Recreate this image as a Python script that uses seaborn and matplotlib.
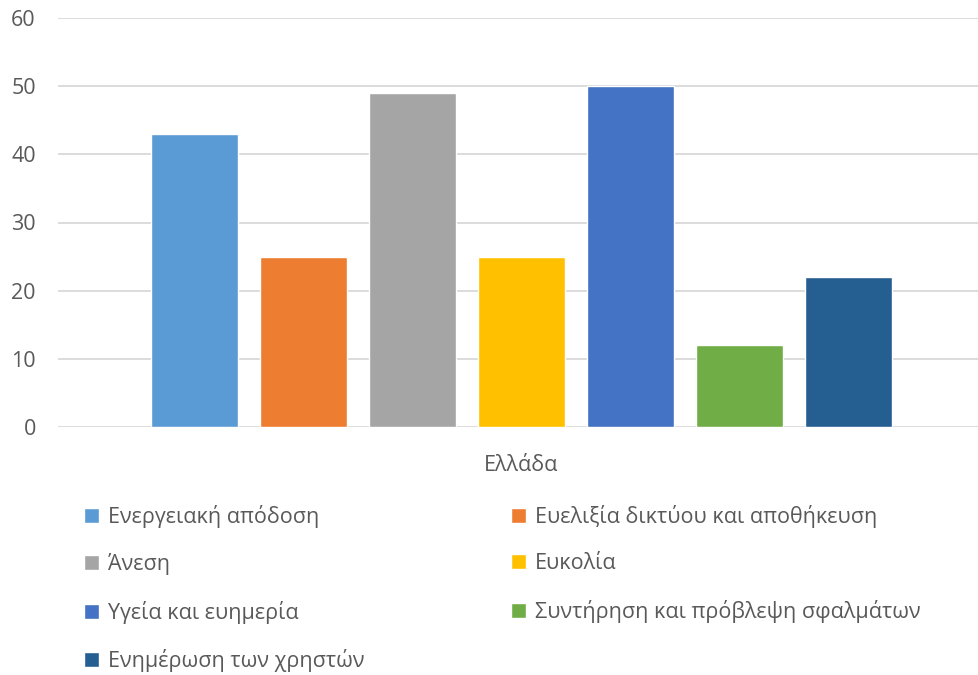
import matplotlib
matplotlib.use("Agg")
import matplotlib.pyplot as plt
import seaborn as sns
import pandas as pd

# Survey categories and their scores for Greece
categories = [
    "Ενεργειακή απόδοση",
    "Ευελιξία δικτύου και αποθήκευση",
    "Άνεση",
    "Ευκολία",
    "Υγεία και ευημερία",
    "Συντήρηση και πρόβλεψη σφαλμάτων",
    "Ενημέρωση των χρηστών",
]
values = [43, 25, 49, 25, 50, 12, 22]
country = "Ελλάδα"
colors = ["#5B9BD5", "#ED7D31", "#A5A5A5", "#FFC000", "#4472C4", "#70AD47", "#255E91"]
yticks = [0, 10, 20, 30, 40, 50, 60]

df = pd.DataFrame({"country": [country] * len(categories),
                   "category": categories,
                   "value": values})

sns.set_theme(style="white")
plt.rcParams["font.family"] = ["Open Sans", "DejaVu Sans"]
text_color = "#595959"
grid_color = "#D9D9D9"
fs = 15.5

fig = plt.figure(figsize=(9.79, 6.75), dpi=100)
ax = fig.add_axes([58 / 979, 1 - 427 / 675, 927 / 979, (427 - 18) / 675])

sns.barplot(data=df, x="country", y="value", hue="category",
            hue_order=categories, palette=colors, width=0.823, gap=0.21,
            saturation=1, ax=ax, legend=True)

ax.set_ylim(0, 60)
ax.set_yticks(yticks)
ax.set_xlim(-0.5, 0.5)
ax.yaxis.grid(True, color=grid_color, linewidth=1.3)
ax.set_axisbelow(True)
for s in ax.spines.values():
    s.set_visible(False)
ax.set_xlabel("")
ax.set_ylabel("")
ax.tick_params(axis="y", length=0, pad=16, labelsize=fs, labelcolor=text_color)
ax.tick_params(axis="x", length=0, pad=20, labelsize=fs, labelcolor=text_color)

# Legend below the chart: two columns, read row by row
handles, labels = ax.get_legend_handles_labels()
ax.get_legend().remove()
leg_kw = dict(frameon=False, loc="upper left", handlelength=0.7,
              handleheight=0.7, handletextpad=0.4, labelspacing=1.18,
              fontsize=fs, borderaxespad=0, borderpad=0)
left_idx = [0, 2, 4, 6]
right_idx = [1, 3, 5]
leg1 = fig.legend([handles[i] for i in left_idx], [labels[i] for i in left_idx],
                  bbox_to_anchor=(84 / 979, 1 - 505 / 675), **leg_kw)
leg2 = fig.legend([handles[i] for i in right_idx], [labels[i] for i in right_idx],
                  bbox_to_anchor=(511 / 979, 1 - 505 / 675), **leg_kw)
for leg in (leg1, leg2):
    for t in leg.get_texts():
        t.set_color(text_color)

fig.savefig("out.png", dpi=100)
